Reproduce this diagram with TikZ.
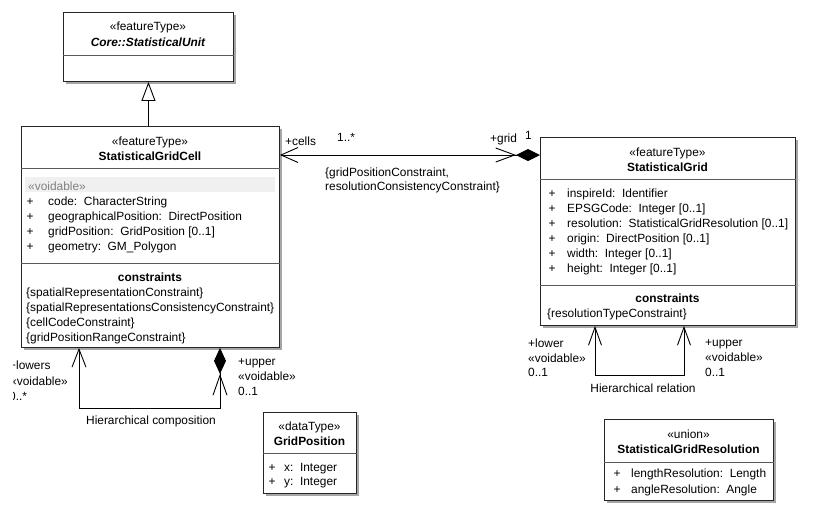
\documentclass[tikz,border=0pt]{standalone}
\usepackage{fontspec}
\setmainfont{Liberation Sans}
\usetikzlibrary{arrows.meta,calc,shadows}
\newcommand\fsz{\fontsize{11.9}{15}\selectfont}
\begin{document}
\begin{tikzpicture}[x=1pt,y=-1pt,
  font=\fsz,
  umlbox/.style={draw=black!85, fill=white, line width=0.9pt, anchor=north west, inner sep=0pt,
    drop shadow={shadow xshift=3pt, shadow yshift=-3pt, fill=black!35, opacity=1}},
  sepline/.style={draw=black!65, line width=0.9pt},
  conn/.style={draw=black, line width=0.9pt},
  ctxt/.style={inner sep=0pt, anchor=base},
  ltxt/.style={inner sep=0pt, anchor=base west},
  btxt/.style={inner sep=0pt, anchor=base, font=\fsz\bfseries},
]
\useasboundingbox (0,0) rectangle (815,515);

% ---------- boxes ----------
\node[umlbox, minimum width=170pt, minimum height=69pt] (unit) at (63,12) {};
\node[umlbox, minimum width=258pt, minimum height=221pt] (cell) at (21,126) {};
\node[umlbox, minimum width=255pt, minimum height=188pt] (grid) at (540,137) {};
\node[umlbox, minimum width=93pt, minimum height=81pt] (gpos) at (263,412) {};
\node[umlbox, minimum width=169pt, minimum height=81pt] (res) at (604,419) {};

% ---------- separators ----------
\draw[sepline] ($(unit.north west)+(0,43)$) -- ($(unit.north east)+(0,43)$);
\draw[sepline] ($(cell.north west)+(0,42)$) -- ($(cell.north east)+(0,42)$);
\draw[sepline] ($(cell.north west)+(0,137)$) -- ($(cell.north east)+(0,137)$);
\draw[sepline] ($(grid.north west)+(0,42)$) -- ($(grid.north east)+(0,42)$);
\draw[sepline] ($(grid.north west)+(0,148)$) -- ($(grid.north east)+(0,148)$);
\draw[sepline] ($(gpos.north west)+(0,41)$) -- ($(gpos.north east)+(0,41)$);
\draw[sepline] ($(res.north west)+(0,43)$) -- ($(res.north east)+(0,43)$);

% ---------- Core::StatisticalUnit ----------
\node[ctxt] (unitS) at (148,30) {«featureType»};
\node[ctxt, font=\fsz\bfseries\itshape] (unitN) at (148,46) {Core::StatisticalUnit};

% ---------- StatisticalGridCell ----------
\node[ctxt] (cellS) at (150,145) {«featureType»};
\node[btxt] (cellN) at (150,160) {StatisticalGridCell};
\fill[black!6] (25,177) rectangle (275,192);
\node[ltxt, text=black!50] (cellV) at (28,190) {«voidable»};
\node[ltxt] (cellA1) at (48,205) {\llap{+\hspace{14.6pt}}code:\ \ CharacterString};
\node[ltxt] (cellA2) at (48,220) {\llap{+\hspace{14.6pt}}geographicalPosition:\ \ DirectPosition};
\node[ltxt] (cellA3) at (48,235) {\llap{+\hspace{14.6pt}}gridPosition:\ \ GridPosition [0..1]};
\node[ltxt] (cellA4) at (48,250) {\llap{+\hspace{14.6pt}}geometry:\ \ GM\_Polygon};
\node[btxt] (cellC) at (150,281) {constraints};
\node[ltxt] (cellC1) at (26,296) {\{spatialRepresentationConstraint\}};
\node[ltxt] (cellC2) at (26,311) {\{spatialRepresentationsConsistencyConstraint\}};
\node[ltxt] (cellC3) at (26,326) {\{cellCodeConstraint\}};
\node[ltxt] (cellC4) at (26,341) {\{gridPositionRangeConstraint\}};

% ---------- StatisticalGrid ----------
\node[ctxt] (gridS) at (667.5,156) {«featureType»};
\node[btxt] (gridN) at (667.5,171) {StatisticalGrid};
\node[ltxt] (gridA1) at (567,197) {\llap{+\hspace{11.6pt}}inspireId:\ \ Identifier};
\node[ltxt] (gridA2) at (567,212) {\llap{+\hspace{11.6pt}}EPSGCode:\ \ Integer [0..1]};
\node[ltxt] (gridA3) at (567,227) {\llap{+\hspace{11.6pt}}resolution:\ \ StatisticalGridResolution [0..1]};
\node[ltxt] (gridA4) at (567,242) {\llap{+\hspace{11.6pt}}origin:\ \ DirectPosition [0..1]};
\node[ltxt] (gridA5) at (567,257) {\llap{+\hspace{11.6pt}}width:\ \ Integer [0..1]};
\node[ltxt] (gridA6) at (567,272) {\llap{+\hspace{11.6pt}}height:\ \ Integer [0..1]};
\node[btxt] (gridC) at (667.5,302) {constraints};
\node[ltxt] (gridC1) at (547,317) {\{resolutionTypeConstraint\}};

% ---------- GridPosition ----------
\node[ctxt] (gposS) at (309.5,430) {«dataType»};
\node[btxt] (gposN) at (309.5,445) {GridPosition};
\node[ltxt] (gposA1) at (284,471) {\llap{+\hspace{8.6pt}}x:\ \ Integer};
\node[ltxt] (gposA2) at (284,485) {\llap{+\hspace{8.6pt}}y:\ \ Integer};

% ---------- StatisticalGridResolution ----------
\node[ctxt] (resS) at (688.5,438) {«union»};
\node[btxt] (resN) at (688.5,453) {StatisticalGridResolution};
\node[ltxt] (resA1) at (631,477) {\llap{+\hspace{10.6pt}}lengthResolution:\ \ Length};
\node[ltxt] (resA2) at (631,493) {\llap{+\hspace{10.6pt}}angleResolution:\ \ Angle};

% ---------- generalization ----------
\draw[conn, -{Triangle[open, length=19pt, width=14pt, line width=0.9pt]}] (cell.north -| unit.south) -- (unit.south);

% ---------- association cells/grid ----------
\coordinate (gp) at ($(grid.north west)+(0,18)$);
\draw[conn, {Straight Barb[length=17pt,width=15pt]}-{Straight Barb[length=19pt,width=14pt] Diamond[length=24pt,width=12pt,fill=black]}]
  (cell.east |- gp) -- (gp);
\node[ltxt] (lcells) at (285,145) {+cells};
\node[ltxt] (lmult1) at (337,141) {1..*};
\node[ltxt] (lgrid) at (490,142) {+grid};
\node[ltxt] (lmult2) at (525,139) {1};
\node[ltxt] (lcon1) at (325,176) {\{gridPositionConstraint,};
\node[ltxt] (lcon2) at (325,190) {resolutionConsistencyConstraint\}};

% ---------- hierarchical composition ----------
\coordinate (cl) at ($(cell.south west)+(58,0)$);
\coordinate (cu) at ($(cell.south west)+(199,0)$);
\coordinate (cb) at ($(cell.south west)+(0,61)$);
\draw[conn, {Straight Barb[length=18pt,width=14pt]}-{Straight Barb[length=20pt,width=14pt] Diamond[length=26pt,width=12pt,fill=black]}]
  (cl) -- (cl |- cb) -| (cu);
\begin{scope}
  \clip (13,350) rectangle (80,405);
  \node[ltxt] (lLow1) at (9,369) {+lowers};
  \node[ltxt] (lLow2) at (10,385) {«voidable»};
  \node[ltxt] (lLow3) at (9,400) {0..*};
\end{scope}
\node[ltxt] (lUp1) at (238,365) {+upper};
\node[ltxt] (lUp2) at (238,380) {«voidable»};
\node[ltxt] (lUp3) at (238,395) {0..1};
\node[ctxt] (lcomp) at (151,424) {Hierarchical composition};

% ---------- hierarchical relation ----------
\coordinate (rl) at ($(grid.south west)+(55,0)$);
\coordinate (rr) at ($(grid.south west)+(144,0)$);
\coordinate (rb) at ($(grid.south west)+(0,50)$);
\draw[conn, {Straight Barb[length=18pt,width=13pt]}-{Straight Barb[length=18pt,width=13pt]}]
  (rl) -- (rl |- rb) -| (rr);
\node[ltxt] (rLow1) at (528,347) {+lower};
\node[ltxt] (rLow2) at (528,362) {«voidable»};
\node[ltxt] (rLow3) at (528,376) {0..1};
\node[ltxt] (rUp1) at (705,346) {+upper};
\node[ltxt] (rUp2) at (705,361) {«voidable»};
\node[ltxt] (rUp3) at (705,376) {0..1};
\node[ctxt] (lrel) at (643,392) {Hierarchical relation};
\end{tikzpicture}
\end{document}
